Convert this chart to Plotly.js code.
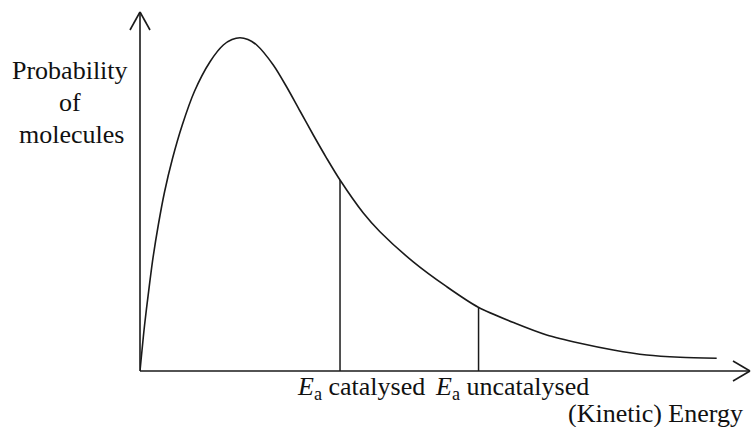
<!DOCTYPE html>
<html>
<head>
<meta charset="utf-8">
<script src="https://cdn.plot.ly/plotly-3.0.1.min.js"></script>
<style>html,body{margin:0;padding:0;background:#fff;}#chart{width:752px;height:427px;}</style>
</head>
<body>
<div id="chart"></div>
<script>
// Maxwell–Boltzmann style curve (arbitrary units)
var energy = [0, 0.075, 0.141, 0.213, 0.300, 0.403, 0.534, 0.693, 0.890, 1.148, 1.366, 1.508, 1.639, 1.770, 1.913, 2.185, 2.405, 2.623, 2.841, 3.061, 3.279, 3.661, 3.934, 4.480, 5.028, 5.546, 6.152, 6.667, 7.213, 7.759, 8.307, 8.852, 9.454];
var probability = [0, 1.281, 2.209, 3.148, 4.067, 4.994, 5.925, 6.852, 7.780, 8.616, 9.081, 9.234, 9.284, 9.234, 9.081, 8.524, 7.911, 7.242, 6.574, 5.925, 5.320, 4.401, 3.880, 3.040, 2.348, 1.775, 1.329, 1.003, 0.772, 0.585, 0.446, 0.382, 0.354];
// Activation energies (x) and the curve height where each marker line ends
var eaLabels = ['<i>E</i><sub>a</sub> catalysed', '<i>E</i><sub>a</sub> uncatalysed'];
var eaX = [3.279, 5.55];
var eaY = [5.32, 1.77];
var yTitleLines = ['Probability', 'of', 'molecules'];
var xTitle = '(Kinetic) Energy';

var W = 752, H = 427;
var M = {l: 140, r: 2, t: 12, b: 56};
var PW = W - M.l - M.r, PH = H - M.t - M.b;
function px(p) { return (p - M.l) / PW; }
function py(p) { return (H - M.b - p) / PH; }

var ink = '#1a1a1a';
var font = {family: 'Liberation Serif, Times New Roman, Times, DejaVu Serif, serif', size: 26, color: '#111'};

var traces = [{
  x: energy, y: probability, type: 'scatter', mode: 'lines',
  line: {color: ink, width: 1.6, shape: 'spline', smoothing: 0.8},
  hoverinfo: 'skip'
}];
eaX.forEach(function (xv, i) {
  traces.push({
    x: [xv, xv], y: [0, eaY[i]], type: 'scatter', mode: 'lines',
    line: {color: ink, width: 1.5}, hoverinfo: 'skip'
  });
});

var shapes = [
  {type: 'line', xref: 'paper', yref: 'paper', x0: 0, y0: 0, x1: 1, y1: 0, line: {color: ink, width: 1.6}},
  {type: 'line', xref: 'paper', yref: 'paper', x0: 0, y0: 0, x1: 0, y1: 1, line: {color: ink, width: 1.6}},
  // arrow heads (pixel sized)
  {type: 'line', xref: 'paper', yref: 'paper', xsizemode: 'pixel', ysizemode: 'pixel', xanchor: 1, yanchor: 0, x0: -17, y0: 10, x1: 0, y1: 0, line: {color: ink, width: 1.6}},
  {type: 'line', xref: 'paper', yref: 'paper', xsizemode: 'pixel', ysizemode: 'pixel', xanchor: 1, yanchor: 0, x0: -17, y0: -10, x1: 0, y1: 0, line: {color: ink, width: 1.6}},
  {type: 'line', xref: 'paper', yref: 'paper', xsizemode: 'pixel', ysizemode: 'pixel', xanchor: 0, yanchor: 1, x0: -10, y0: -18, x1: 0, y1: 0, line: {color: ink, width: 1.6}},
  {type: 'line', xref: 'paper', yref: 'paper', xsizemode: 'pixel', ysizemode: 'pixel', xanchor: 0, yanchor: 1, x0: 10, y0: -18, x1: 0, y1: 0, line: {color: ink, width: 1.6}}
];

var ann = [];
var yTitlePos = [[70, 70], [70, 103], [71, 134]];
yTitleLines.forEach(function (t, i) {
  ann.push({text: t, xref: 'paper', yref: 'paper', x: px(yTitlePos[i][0]), y: py(yTitlePos[i][1]),
    xanchor: 'center', yanchor: 'middle', showarrow: false, font: font});
});
var eaPos = [[361, 388], [512, 388]];
eaLabels.forEach(function (t, i) {
  ann.push({text: t, xref: 'paper', yref: 'paper', x: px(eaPos[i][0]), y: py(eaPos[i][1]),
    xanchor: 'center', yanchor: 'middle', showarrow: false, font: font});
});
ann.push({text: xTitle, xref: 'paper', yref: 'paper', x: px(655), y: py(413),
  xanchor: 'center', yanchor: 'middle', showarrow: false, font: font});

var axisCommon = {showgrid: false, zeroline: false, showticklabels: false, ticks: '', showline: false, fixedrange: true};
var layout = {
  width: W, height: H,
  margin: M,
  paper_bgcolor: '#fff', plot_bgcolor: '#fff',
  showlegend: false,
  font: font,
  xaxis: Object.assign({range: [0, 10]}, axisCommon),
  yaxis: Object.assign({range: [0, 10]}, axisCommon),
  shapes: shapes,
  annotations: ann
};
Plotly.newPlot('chart', traces, layout, {displayModeBar: false, staticPlot: true});
</script>
</body>
</html>
